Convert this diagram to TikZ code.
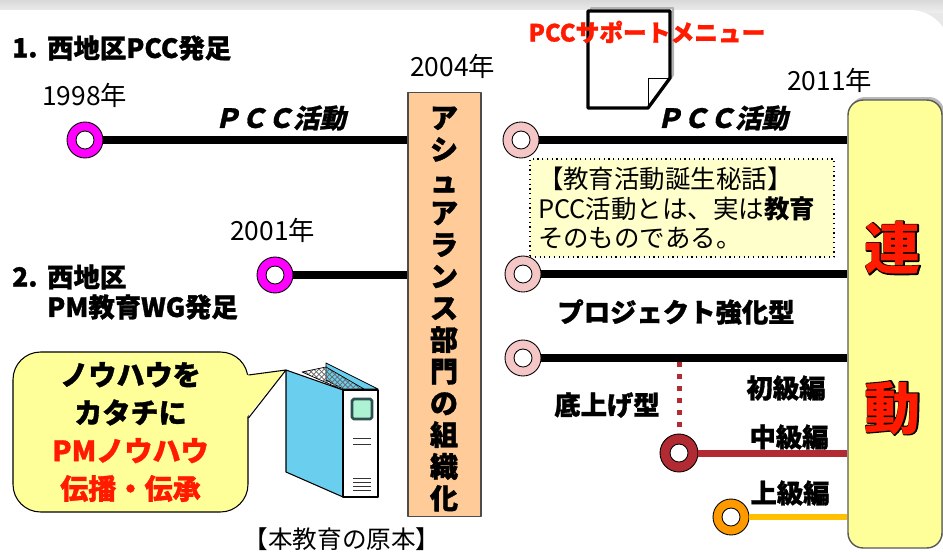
\documentclass[tikz,border=0pt]{standalone}
\usepackage{fontspec}
\setmainfont{Noto Sans CJK JP}
\newfontfamily\slantjp{Noto Sans CJK JP}[FakeSlant=0.22, FakeBold=1]
\newfontfamily\heavyjp{Noto Sans CJK JP}[FakeBold=1.2]
\newfontfamily\thickjp{Noto Sans CJK JP}[FakeBold=4]
\usetikzlibrary{patterns,calc}
\definecolor{peach}{HTML}{FFCC99}
\definecolor{goalyellow}{HTML}{FFFF99}
\definecolor{noteyellow}{HTML}{FFFFCC}
\definecolor{ringpink}{HTML}{F4C6C6}
\definecolor{ringmag}{HTML}{FF00FF}
\definecolor{wine}{HTML}{B22B33}
\definecolor{ringorange}{HTML}{FF9900}
\definecolor{lineorange}{HTML}{FFC000}
\definecolor{hotred}{HTML}{FF1A00}
\definecolor{binder}{HTML}{6ACEEE}
\definecolor{tag}{HTML}{AEF2D4}
\definecolor{tagedge}{HTML}{2F5050}
\newcommand{\fsz}[1]{\fontsize{#1pt}{1.25\dimexpr#1pt\relax}\selectfont}

\begin{document}
\begin{tikzpicture}[x=0.02cm, y=-0.02cm, font=\fsz{15}, line join=round]
	\tikzset{ring/.style={circle, draw=black, line width=0.5pt, fill=#1, minimum size=0.72cm, inner sep=0pt,
			path picture={\draw[line width=0.5pt, fill=white] (path picture bounding box.center) circle (0.18cm);}},
		track/.style={line width=0.15cm},
		year/.style={anchor=west, font=\fsz{15}},
		heavy/.style={font=\heavyjp\fsz{15}\bfseries},
		grade/.style={font=\heavyjp\fsz{15}\bfseries},
		goal/.style={rounded corners=0.3cm, fill=goalyellow, draw=gray!70!black, line width=0.8pt,
			minimum width=1.88cm, minimum height=8.96cm, inner sep=0pt}}
	\useasboundingbox (0,0) rectangle (943,551);
	% slide background
	\fill[gray!18] (0,0) rectangle (943,551);
	\shade[top color=gray!30, bottom color=gray!14] (0,0) rectangle (943,12);
	\fill[white, rounded corners=0.8cm] (-50,10) rectangle (950,600);
	% boxes
	\node[draw=gray!60!black, fill=peach, line width=0.6pt, minimum width=1.46cm, minimum height=8.5cm, inner sep=0pt] (org) at (444.5,304.5) {};
	\node[goal, fill=gray!55, draw=none] (goalshade) at (897,321) {};
	\node[goal] (goal) at (895,324) {};
	\node[draw, dotted, line width=0.7pt, fill=noteyellow, text width=5.76cm, inner xsep=0.16cm, minimum height=1.96cm, align=left,
		font=\fontsize{14.5pt}{17pt}\selectfont] (story) at (682,208)
		{【教育活動誕生秘話】\\PCC活動とは、実は\textbf{教育}\\そのものである。};
	% rings and tracks
	\node[ring=ringmag] (m1) at (85,140) {};
	\node[ring=ringmag] (m2) at (275,275) {};
	\node[ring=ringpink] (p1) at (521,140) {};
	\node[ring=ringpink] (p2) at (523,274) {};
	\node[ring=ringpink] (p3) at (523,358) {};
	\node[ring=wine, minimum size=0.76cm] (w1) at (679,453) {};
	\node[ring=ringorange] (o1) at (731,517) {};
	\draw[track] (m1) -- (m1 -| org.west);
	\draw[track] (m2) -- (m2 -| org.west);
	\draw[track] (p1) -- (p1 -| goal.west);
	\draw[track] (p2) -- (p2 -| goal.west);
	\draw[track] (p3) -- (p3 -| goal.west);
	\draw[track, wine, line width=0.14cm] (w1) -- (w1 -| goal.west);
	\draw[track, lineorange, line width=0.11cm] (o1) -- (o1 -| goal.west);
	\coordinate (drop) at (679,362);
	\draw[wine, line width=0.1cm, dash pattern=on 0.1cm off 0.14cm] (drop) -- (w1.north);
	% menu sheet
	\begin{scope}[shift={(3,-3)}]
		\draw[gray!60, line width=0.04cm] (588,11) -- (670,11) -- (670,78) -- (648,108) -- (588,108) -- cycle;
	\end{scope}
	\draw[line width=0.065cm, fill=white] (588,11) -- (670,11) -- (670,78) -- (648,108) -- (588,108) -- cycle;
	\draw[line width=0.4pt] (670,78) -- (648,78) -- (648,108);
	% years and titles
	\node[anchor=west, heavy] (num1) at (6,48) {1.};
	\node[anchor=west, heavy] (team1) at (41,48) {西地区PCC発足};
	\node[anchor=west, heavy] (num2) at (6,277) {2.};
	\node[anchor=west, heavy] (team2) at (41,277) {西地区};
	\node[anchor=west, heavy] (wg) at (41,307) {PM教育WG発足};
	\node[year] (y1998) at (36,95) {1998年};
	\node[year] (y2001) at (224,230) {2001年};
	\node[year] (y2004) at (404,66) {2004年};
	\node[year] (y2011) at (781,80) {2011年};
	\node[font=\slantjp\fsz{15}\bfseries] (act1) at (280,118) {ＰＣＣ活動};
	\node[font=\slantjp\fsz{15}\bfseries] (act2) at (722,118) {ＰＣＣ活動};
	\node[font=\heavyjp\fsz{13.5}\bfseries, text=hotred] (menu) at (647,32) {PCCサポートメニュー};
	\node[font=\heavyjp\fontsize{16pt}{18.05pt}\selectfont\bfseries, align=center, inner sep=0pt] (orgtext) at (444,309)
		{ア\\シ\\ュ\\ア\\ラ\\ン\\ス\\部\\門\\の\\組\\織\\化};
	\node[heavy] (proj) at (676,312) {プロジェクト強化型};
	\node[heavy] (base) at (607,405) {底上げ型};
	\node[grade] (g1) at (786,388) {初級編};
	\node[grade] (g2) at (789,437) {中級編};
	\node[grade] (g3) at (790,493) {上級編};
	% renkei
	\node[font=\thickjp\fsz{32}\bfseries] (ren0) at (893,248) {連};
	\node[font=\fsz{32}\bfseries, text=hotred] (ren) at (893,248) {連};
	\node[font=\thickjp\fsz{32}\bfseries] (dou0) at (893,408) {動};
	\node[font=\fsz{32}\bfseries, text=hotred] (dou) at (893,408) {動};
	% binder
	\coordinate (bookcorner) at (286,370);
	\fill[binder, draw=black, line width=0.5pt] (326,363) -- (378,389) -- (343,389) -- (326,380) -- cycle;
	\draw[pattern=crosshatch, pattern color=gray!80!black, line width=0.4pt] (302,372) -- (326,367) -- (364,389) -- (343,390) -- cycle;
	\draw[fill=binder, line width=0.6pt] (bookcorner) -- (343,390) -- (343,497) -- (286,472) -- cycle;
	\draw[fill=white, line width=0.6pt] (343,390) rectangle (378,497);
	\draw[fill=tag, draw=tagedge, line width=1.6pt, rounded corners=1pt] (352,399) rectangle (372,419);
	\draw[gray!40!black, line width=0.5pt] (353,438) -- (371,438) (353,444) -- (371,444)
		(353,478) -- (371,478) (353,482) -- (371,482) (353,486) -- (371,486) (353,490) -- (371,490);
	\node[font=\fsz{14}] (bookname) at (342,539) {【本教育の原本】};
	% callout
	\node[draw, fill=goalyellow, line width=0.6pt, rounded corners=0.55cm, minimum width=4.7cm, minimum height=3.2cm,
		align=center, font=\heavyjp\fontsize{16pt}{21.6pt}\selectfont\bfseries] (call) at (130.5,432)
		{ノウハウを\\カタチに\\\textcolor{hotred}{PMノウハウ}\\\textcolor{hotred}{伝播・伝承}};
	\fill[goalyellow] (246,375) -- (bookcorner) -- (246,418) -- cycle;
	\draw[line width=0.6pt] (call.east |- 0,375) -- (bookcorner) -- (call.east |- 0,418);
\end{tikzpicture}
\end{document}
